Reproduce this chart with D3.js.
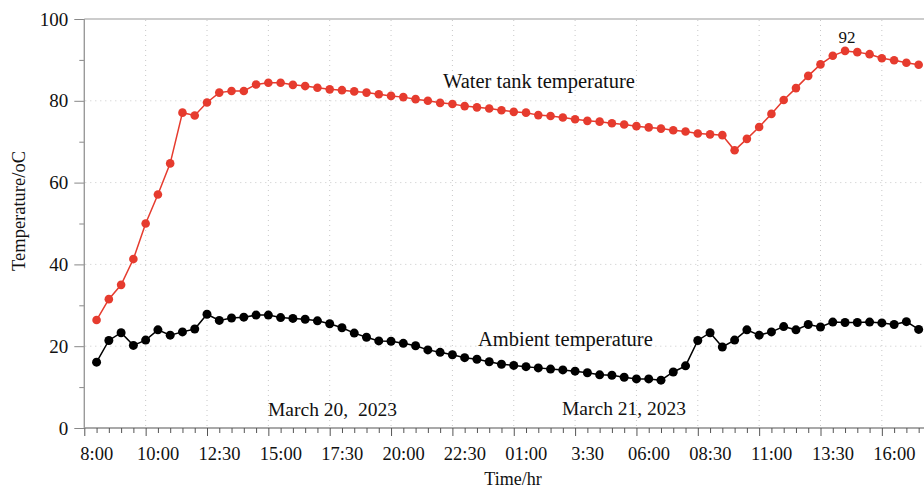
<!DOCTYPE html>
<html>
<head>
<meta charset="utf-8">
<script src="https://cdn.jsdelivr.net/npm/d3@7"></script>
<style>
  html, body { margin: 0; padding: 0; background: #fff; }
  svg { display: block; }
  text { font-family: "Liberation Serif", "Times New Roman", serif; fill: #111; }
</style>
</head>
<body>
<svg id="chart" width="924" height="492"></svg>
<script>
// ---- data ----
const tickLabels = ["8:00", "10:00", "12:30", "15:00", "17:30", "20:00", "22:30",
                    "01:00", "3:30", "06:00", "08:30", "11:00", "13:30", "16:00"];
const waterTank = [26.4, 31.5, 35.0, 41.3, 50.0, 57.1, 64.7, 77.1, 76.4, 79.6,
                   82.0, 82.4, 82.4, 84.0, 84.4, 84.4, 83.9, 83.6, 83.2, 82.8,
                   82.6, 82.3, 82.0, 81.6, 81.2, 80.9, 80.4, 80.0, 79.5, 79.2,
                   78.7, 78.4, 78.1, 77.7, 77.3, 77.1, 76.5, 76.3, 75.9, 75.5,
                   75.1, 74.9, 74.5, 74.2, 73.8, 73.5, 73.2, 72.8, 72.5, 72.0,
                   71.8, 71.6, 67.9, 70.7, 73.6, 76.8, 80.2, 83.1, 86.1, 88.9,
                   91.0, 92.2, 91.9, 91.4, 90.4, 89.9, 89.3, 88.8];
const ambient = [16.1, 21.4, 23.3, 20.2, 21.5, 24.0, 22.7, 23.5, 24.2, 27.8,
                 26.3, 26.9, 27.1, 27.6, 27.6, 27.0, 26.8, 26.6, 26.2, 25.5,
                 24.5, 23.2, 22.2, 21.3, 21.2, 20.7, 20.1, 19.1, 18.5, 17.9,
                 17.2, 16.8, 16.2, 15.6, 15.3, 15.0, 14.7, 14.4, 14.2, 13.9,
                 13.5, 13.0, 12.9, 12.4, 12.0, 12.0, 11.7, 13.7, 15.2, 21.4,
                 23.3, 19.8, 21.5, 24.0, 22.7, 23.5, 24.8, 24.0, 25.3, 24.7,
                 25.9, 25.8, 25.8, 25.9, 25.7, 25.3, 26.0, 24.1];
const peakLabel = "92";
const yMajor = [0, 20, 40, 60, 80, 100];
const yMinor = [10, 30, 50, 70, 90];

(function () {
// ---- layout ----
const svg = d3.select("#chart");
const mLeft = 84.3, mTop = 19, mBottom = 428;
const step = 12.27;
const nIdx = 70;
const x = d3.scaleLinear().domain([0, nIdx]).range([mLeft, mLeft + nIdx * step]);
const y = d3.scaleLinear().domain([0, 100]).range([mBottom, mTop]);
const mRight = 924;

const majorIdx = tickLabels.map((d, k) => k * 5);
const minorIdx = d3.range(0, nIdx + 1).filter(i => i % 5 !== 0);

// grid
const grid = svg.append("g").attr("stroke", "#c8c8c8").attr("stroke-width", 1)
  .attr("stroke-dasharray", "1,4");
grid.selectAll("line.h").data([20, 40, 60, 80]).join("line")
  .attr("x1", mLeft + 1).attr("x2", mRight)
  .attr("y1", d => y(d)).attr("y2", d => y(d));
grid.selectAll("line.v").data(majorIdx.filter(i => i > 0)).join("line")
  .attr("x1", d => x(d)).attr("x2", d => x(d))
  .attr("y1", mTop + 1).attr("y2", mBottom);

// top border
svg.append("line").attr("x1", mLeft).attr("x2", mRight)
  .attr("y1", mTop).attr("y2", mTop).attr("stroke", "#9a9a9a").attr("stroke-width", 1.2);

// x axis (major with labels)
const xAxisMajor = d3.axisBottom(x).tickValues(majorIdx).tickSize(8)
  .tickFormat((d, k) => tickLabels[k]);
const gxM = svg.append("g").attr("transform", `translate(0,${mBottom})`).call(xAxisMajor);
gxM.select(".domain").remove();
gxM.selectAll(".tick line").attr("stroke", "#555");
gxM.selectAll(".tick text").attr("y", 32).attr("dy", 0).attr("dx", 12)
  .attr("font-size", 18.5).attr("font-family", "Liberation Serif").attr("fill", "#111");
// x minor ticks
const xAxisMinor = d3.axisBottom(x).tickValues(minorIdx).tickSize(5).tickFormat("");
const gxm = svg.append("g").attr("transform", `translate(0,${mBottom})`).call(xAxisMinor);
gxm.select(".domain").remove();
gxm.selectAll(".tick line").attr("stroke", "#555");
svg.append("line").attr("x1", mLeft).attr("x2", mRight).attr("y1", mBottom).attr("y2", mBottom)
  .attr("stroke", "#555").attr("stroke-width", 1.2);

// y axis
const yAxisMajor = d3.axisLeft(y).tickValues(yMajor).tickSize(10).tickPadding(6);
const gyM = svg.append("g").attr("transform", `translate(${mLeft},0)`).call(yAxisMajor);
gyM.select(".domain").remove();
gyM.selectAll(".tick line").attr("stroke", "#888");
gyM.selectAll(".tick text").attr("font-size", 19).attr("font-family", "Liberation Serif").attr("fill", "#111");
const yAxisMinor = d3.axisLeft(y).tickValues(yMinor).tickSize(5).tickFormat("");
const gym = svg.append("g").attr("transform", `translate(${mLeft},0)`).call(yAxisMinor);
gym.select(".domain").remove();
gym.selectAll(".tick line").attr("stroke", "#888");
svg.append("line").attr("x1", mLeft).attr("x2", mLeft).attr("y1", mTop).attr("y2", mBottom)
  .attr("stroke", "#9a9a9a").attr("stroke-width", 1.4);

// series
function drawSeries(data, color, r) {
  const pts = data.map((v, i) => [i + 1, v]);
  svg.append("path").datum(pts)
    .attr("fill", "none").attr("stroke", color).attr("stroke-width", 1.5)
    .attr("d", d3.line().x(d => x(d[0])).y(d => y(d[1])));
  svg.append("g").selectAll("circle").data(pts).join("circle")
    .attr("cx", d => x(d[0])).attr("cy", d => y(d[1])).attr("r", r)
    .attr("fill", color);
}
drawSeries(waterTank, "#e63b2e", 4.3);
drawSeries(ambient, "#000", 4.5);

// annotations
const ann = svg.append("g").attr("font-family", "Liberation Serif");
ann.append("text").attr("x", 443).attr("y", 88).attr("font-size", 20.5).text("Water tank temperature");
ann.append("text").attr("x", 478).attr("y", 346).attr("font-size", 20.5).text("Ambient temperature");
ann.append("text").attr("x", 268).attr("y", 416).attr("font-size", 19.5)
  .attr("xml:space", "preserve").style("white-space", "pre").text("March 20,  2023");
ann.append("text").attr("x", 562).attr("y", 415).attr("font-size", 19.5).text("March 21, 2023");
const peakIdx = waterTank.indexOf(d3.max(waterTank)) + 1;
ann.append("text").attr("x", x(peakIdx) + 2).attr("y", 43).attr("font-size", 17)
  .attr("text-anchor", "middle").text(peakLabel);

// axis titles
svg.append("text").attr("x", 513).attr("y", 485).attr("text-anchor", "middle")
  .attr("font-size", 18).text("Time/hr");
svg.append("text").attr("transform", "translate(25,211) rotate(-90)")
  .attr("text-anchor", "middle").attr("font-size", 18.5).text("Temperature/oC");
})();
</script>
</body>
</html>
